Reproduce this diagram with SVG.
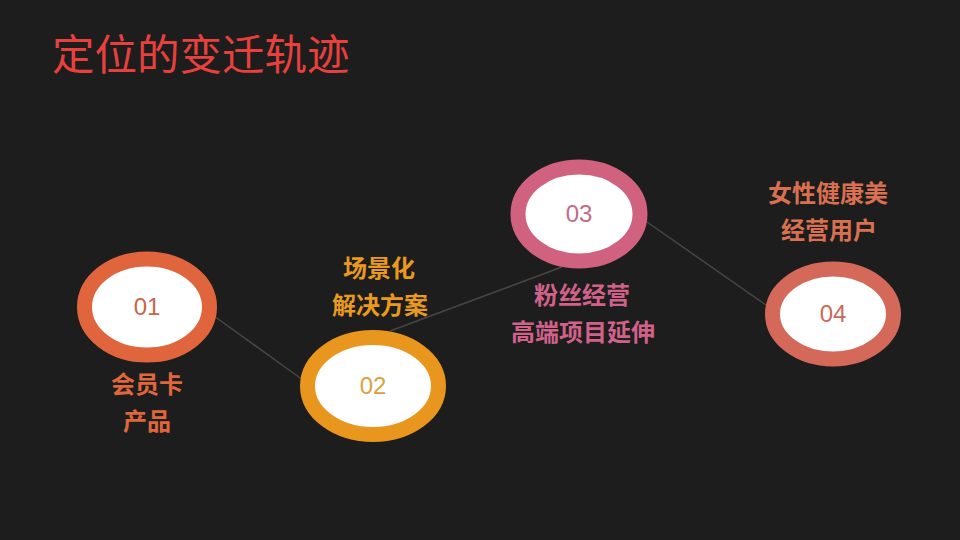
<svg xmlns="http://www.w3.org/2000/svg" width="960" height="540" viewBox="0 0 960 540">
<style>
.lbl{font-family:"Noto Sans CJK SC","Liberation Sans",sans-serif;font-size:24px;font-weight:bold;text-anchor:middle}
.num{font-family:"Liberation Sans","Noto Sans",sans-serif;font-size:24px;text-anchor:middle}
.ring{fill:#ffffff;stroke-width:15}
.conn{stroke:#474646;stroke-width:1.5;fill:none}
</style>
<rect width="960" height="540" fill="#1e1d1d"/>
<text x="52" y="70" font-family="Noto Sans CJK SC,Liberation Sans,sans-serif" font-size="42.5" fill="#e8403c">定位的变迁轨迹</text>
<g id="connectors">
<line class="conn" x1="214" y1="316" x2="303" y2="380"/>
<line class="conn" x1="390" y1="331" x2="562" y2="267"/>
<line class="conn" x1="647" y1="222" x2="766" y2="305"/>
</g>
<g id="node01">
<ellipse class="ring" cx="147" cy="307" rx="62.5" ry="48" stroke="#e0643c"/>
<text class="num" x="147" y="315" fill="#c8664a">01</text>
<text class="lbl" x="147" y="393" fill="#e0663c">会员卡</text>
<text class="lbl" x="147" y="430" fill="#e0663c">产品</text>
</g>
<g id="node02">
<ellipse class="ring" cx="373" cy="386" rx="65.5" ry="48.5" stroke="#e8961e"/>
<text class="num" x="373" y="394" fill="#dca040">02</text>
<text class="lbl" x="379" y="277" fill="#e89a20">场景化</text>
<text class="lbl" x="380" y="314" fill="#e89a20">解决方案</text>
</g>
<g id="node03">
<ellipse class="ring" cx="579" cy="214" rx="61" ry="47" stroke="#d0627f"/>
<text class="num" x="579" y="222" fill="#c06c84">03</text>
<text class="lbl" x="582" y="304" fill="#d0628a">粉丝经营</text>
<text class="lbl" x="583" y="341" fill="#d0628a">高端项目延伸</text>
</g>
<g id="node04">
<ellipse class="ring" cx="833" cy="314" rx="60.5" ry="45" stroke="#d4695a"/>
<text class="num" x="833" y="322" fill="#c86a58">04</text>
<text class="lbl" x="828" y="202" fill="#d97050">女性健康美</text>
<text class="lbl" x="829" y="239" fill="#d97050">经营用户</text>
</g>
</svg>
